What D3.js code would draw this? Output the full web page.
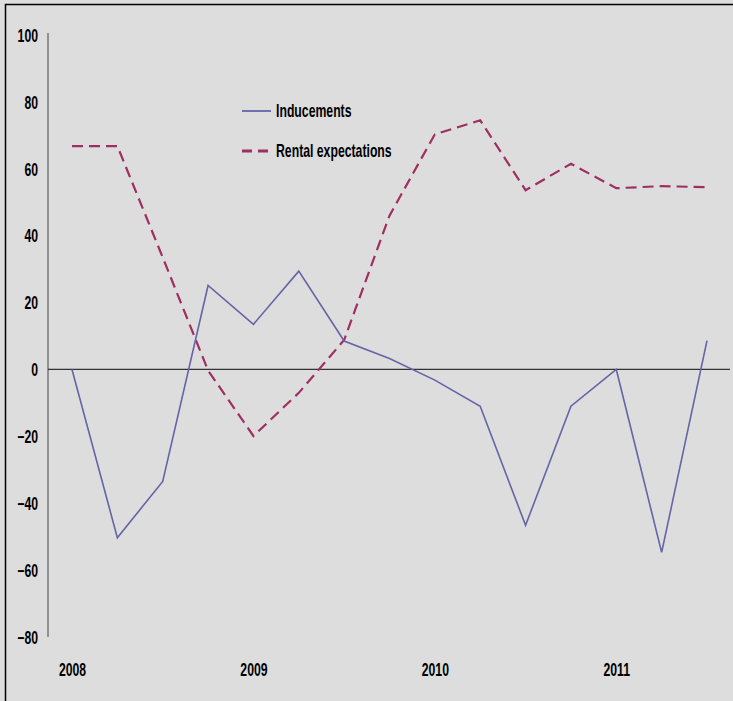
<!DOCTYPE html>
<html>
<head>
<meta charset="utf-8">
<script src="https://cdn.jsdelivr.net/npm/d3@7"></script>
<style>
  html, body { margin: 0; padding: 0; background: #dddddd; }
  svg { display: block; }
  text { font-family: "Liberation Sans", Arial, sans-serif; font-weight: bold; fill: #000; }
</style>
</head>
<body>
<svg id="chart" width="733" height="701"></svg>
<script>
// Quarterly survey balances, 2008 Q1 – 2011 Q3
const quarters = ["2008Q1","2008Q2","2008Q3","2008Q4","2009Q1","2009Q2","2009Q3","2009Q4",
                  "2010Q1","2010Q2","2010Q3","2010Q4","2011Q1","2011Q2","2011Q3"];
const inducements = [0, -50.3, -33.5, 25.1, 13.5, 29.4, 8.5, 3.3, -3.2, -11, -46.6, -11, 0, -54.7, 8.6];
const rentalExpectations = [66.8, 66.8, 33.5, -0.3, -19.9, -7, 8.8, 46, 70.3, 74.5, 53.6, 61.5, 54.2, 54.8, 54.5];
const yTicks = [100, 80, 60, 40, 20, 0, -20, -40, -60, -80];
const yearLabels = ["2008", "2009", "2010", "2011"];
const yearQuarters = ["2008Q1", "2009Q1", "2010Q1", "2011Q1"];

const svg = d3.select("#chart");
const W = 733, H = 701;
const FS = 17.5;       // label font size
const SQUEEZE = 0.7;   // horizontal condensing of the label type

// condense a text element horizontally around its own anchor point
function condense(sel) {
  sel.each(function () {
    const t = d3.select(this);
    const tx = +t.attr("x") || 0;
    t.attr("x", 0).attr("transform", `translate(${tx},0) scale(${SQUEEZE},1)`);
  });
}

svg.append("rect").attr("x", 0).attr("y", 0).attr("width", W).attr("height", H).attr("fill", "#dddddd");
// frame (left and top edges visible)
svg.append("path").attr("d", "M5.5,701 V4.5 H733").attr("fill", "none").attr("stroke", "#000").attr("stroke-width", 1.5);

const x = d3.scalePoint().domain(quarters).range([72, 707]);
const y = d3.scaleLinear().domain([-80, 100]).range([637, 35]);

// y axis
const yAxis = d3.axisLeft(y).tickValues(yTicks).tickSize(0).tickPadding(10).tickFormat(d3.format("d"));
const ga = svg.append("g").attr("transform", "translate(48,0)").call(yAxis);
ga.select(".domain").attr("stroke", "#777").attr("stroke-width", 1.5).attr("d", `M0,${y(100) - 2}V${y(-80)}`);
ga.selectAll("text").attr("font-size", FS).attr("dy", "0.36em")
  .style("font-family", "'Liberation Sans',Arial,sans-serif").style("font-weight", "bold").call(condense);

// zero line
svg.append("line").attr("x1", 48).attr("x2", 730).attr("y1", y(0)).attr("y2", y(0))
  .attr("stroke", "#333").attr("stroke-width", 1.2);

// year labels
const xAxis = d3.axisBottom(x).tickValues(yearQuarters).tickSize(0).tickPadding(0)
  .tickFormat((d) => yearLabels[yearQuarters.indexOf(d)]);
const gx = svg.append("g").attr("transform", "translate(0,664)").call(xAxis);
gx.select(".domain").remove();
gx.selectAll("text").attr("font-size", FS).attr("dy", "0.71em")
  .style("font-family", "'Liberation Sans',Arial,sans-serif").style("font-weight", "bold").call(condense);

const line = d3.line().x((d, i) => x(quarters[i])).y((d) => y(d));

svg.append("path").datum(rentalExpectations).attr("d", line)
  .attr("fill", "none").attr("stroke", "#9e2f62").attr("stroke-width", 2.2)
  .attr("stroke-dasharray", "11,6");

svg.append("path").datum(inducements).attr("d", line)
  .attr("fill", "none").attr("stroke", "#6464a6").attr("stroke-width", 1.6);

// legend
const legend = svg.append("g");
const items = [
  { label: "Inducements", color: "#6464a6", dash: null, w: 1.8, yy: 111 },
  { label: "Rental expectations", color: "#9e2f62", dash: "10,6", w: 3, yy: 151 }
];
items.forEach((it) => {
  legend.append("line").attr("x1", 242).attr("x2", 271).attr("y1", it.yy).attr("y2", it.yy)
    .attr("stroke", it.color).attr("stroke-width", it.w).attr("stroke-dasharray", it.dash);
  legend.append("text").attr("x", 276).attr("y", it.yy).attr("dy", "0.36em")
    .attr("font-size", FS).text(it.label).call(condense);
});
</script>
</body>
</html>
